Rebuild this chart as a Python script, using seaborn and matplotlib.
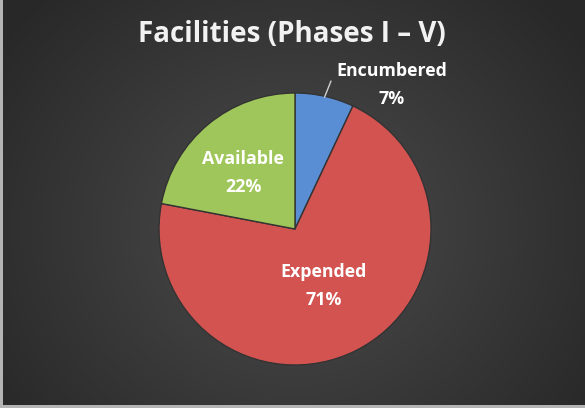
import numpy as np
import matplotlib
matplotlib.use("Agg")
import matplotlib.pyplot as plt
import seaborn as sns

categories = ["Encumbered", "Expended", "Available"]
shares = [7, 71, 22]
slice_colors = ["#5a8ed4", "#d25350", "#9fc65a"]

sns.set_theme(style="white")
plt.rcParams["font.family"] = ["Open Sans", "DejaVu Sans"]

W, H, DPI = 585, 408, 100
fig = plt.figure(figsize=(W / DPI, H / DPI), dpi=DPI)
fig.patch.set_facecolor("#b4b4b4")

# radial gradient backdrop, leaving a thin light frame on the left and bottom
bg = fig.add_axes([3 / W, 3 / H, (W - 3) / W, (H - 3) / H])
yy, xx = np.mgrid[0:H, 0:W]
d = np.sqrt(((xx - 292) / 330.0) ** 2 + ((yy - 230) / 300.0) ** 2)
shade = np.clip(0.30 - 0.13 * d, 0.16, 0.30)
bg.imshow(np.dstack([shade] * 3), extent=[0, 1, 0, 1], aspect="auto", interpolation="bilinear")
bg.set_axis_off()

# pie axes: centre at (295, 229) px, radius 136 px
cx, cy, r = 295, H - 229, 136
ax = fig.add_axes([(cx - r) / W, (cy - r) / H, 2 * r / W, 2 * r / H])
wedges, _ = ax.pie(
    shares,
    colors=slice_colors,
    startangle=90,
    counterclock=False,
    wedgeprops=dict(edgecolor="#333333", linewidth=1.0),
)
ax.set_xlim(-1, 1)
ax.set_ylim(-1, 1)
ax.set_aspect("equal")
ax.set_axis_off()

label_style = dict(color="white", fontsize=12.8, fontweight="bold", ha="center", va="center",
                   linespacing=1.75)

def wedge_mid(w):
    ang = np.deg2rad((w.theta1 + w.theta2) / 2)
    return np.cos(ang), np.sin(ang)

texts = [f"{c}\n{v}%" for c, v in zip(categories, shares)]

# Encumbered: outside the pie with a short leader line from the rim
mx, my = wedge_mid(wedges[0])
x0, y0 = 0.99 * mx, 0.99 * my
ax.plot([x0, x0 + 0.05], [y0, y0 + 0.125], color="#d0d0d0", lw=1.0, solid_capstyle="butt",
        clip_on=False)
ax.text(0.71, 1.06, texts[0], **label_style)

# Expended and Available: inside their slices
mx, my = wedge_mid(wedges[1])
ax.text(0.47 * mx, 0.47 * my, texts[1], **label_style)
mx, my = wedge_mid(wedges[2])
ax.text(0.6 * mx, 0.6 * my - 0.05, texts[2], **label_style)

fig.text(292 / W, 1 - 35 / H, "Facilities (Phases I \u2013 V)", color="#f2f2f2",
         fontsize=20, fontweight="bold", ha="center", va="center")

fig.savefig("out.png", dpi=DPI)
